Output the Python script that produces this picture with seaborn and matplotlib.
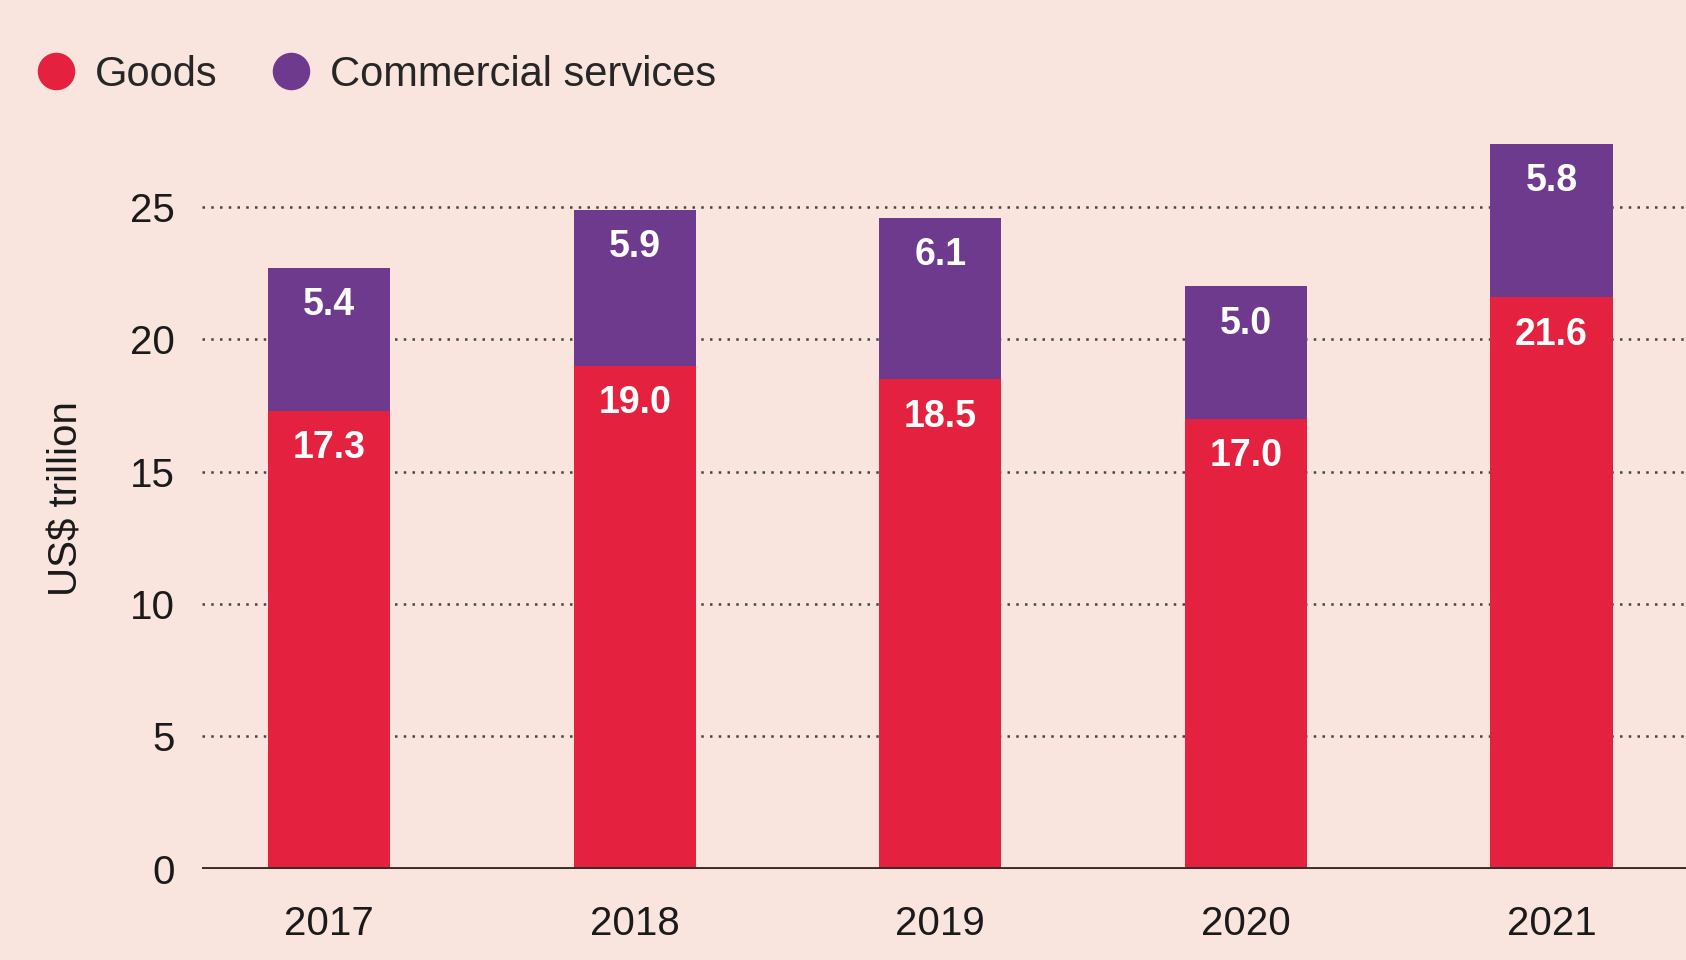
import numpy as np
import pandas as pd
import seaborn as sns
import matplotlib.pyplot as plt
from matplotlib.lines import Line2D

# chart values
years = ["2017", "2018", "2019", "2020", "2021"]
goods = [17.3, 19.0, 18.5, 17.0, 21.6]
services = [5.4, 5.9, 6.1, 5.0, 5.8]
y_ticks = [0, 5, 10, 15, 20, 25]

bg = "#FAE4DE"
red = "#E4223F"
purple = "#6E3A8E"
dark = "#3a2a28"

sns.set_style("white")
plt.rcParams['font.family'] = ['Liberation Sans', 'DejaVu Sans']

df = pd.DataFrame({"year": years, "goods": goods, "services": services})
df["total"] = df["goods"] + df["services"]

fig = plt.figure(figsize=(16.86, 9.6), dpi=100, facecolor=bg)
ax = fig.add_axes([0.12, 0.095, 0.88, 0.772])
ax.set_facecolor(bg)

# stacked bars: total (purple) behind, goods (red) on top
sns.barplot(data=df, x="year", y="total", color=purple, width=0.4,
            saturation=1, linewidth=0, ax=ax, zorder=3)
sns.barplot(data=df, x="year", y="goods", color=red, width=0.4,
            saturation=1, linewidth=0, ax=ax, zorder=4)

# value labels
for i, row in df.iterrows():
    ax.annotate(f"{row['goods']:.1f}", (i, row["goods"]), xytext=(0, -14),
                textcoords="offset points", ha="center", va="top",
                color="white", fontsize=27, fontweight="bold", zorder=5)
    ax.annotate(f"{row['services']:.1f}", (i, row["total"]), xytext=(0, -14),
                textcoords="offset points", ha="center", va="top",
                color="white", fontsize=27, fontweight="bold", zorder=5)

ax.set_xlim(-0.415, 4.44)
ax.set_ylim(0, 28)
ax.set_yticks(y_ticks)
ax.set_yticklabels([str(t) for t in y_ticks])
for t in y_ticks[1:]:
    ax.axhline(t, color="#444444", linestyle=(0, (1, 2.5)), linewidth=1.8, zorder=1)
ax.axhline(0, color=dark, linewidth=3.5, zorder=6)

ax.tick_params(axis="both", length=0, labelsize=29, colors="#1a1a1a")
ax.tick_params(axis="y", pad=20)
ax.tick_params(axis="x", pad=26)
ax.set_xlabel("")
ax.set_ylabel("US$ trillion", fontsize=29, color="#1a1a1a", labelpad=32)
sns.despine(ax=ax, left=True, bottom=True)

handles = [
    Line2D([], [], marker="o", linestyle="", markersize=26, color=red),
    Line2D([], [], marker="o", linestyle="", markersize=26, color=purple),
]
fig.legend(handles, ["Goods", "Commercial services"], loc="center left",
           bbox_to_anchor=(-0.004, 0.922), ncol=2, frameon=False, fontsize=30,
           handletextpad=0.35, columnspacing=1.15, handlelength=1.2)

fig.savefig("out.png", dpi=100, facecolor=bg)
